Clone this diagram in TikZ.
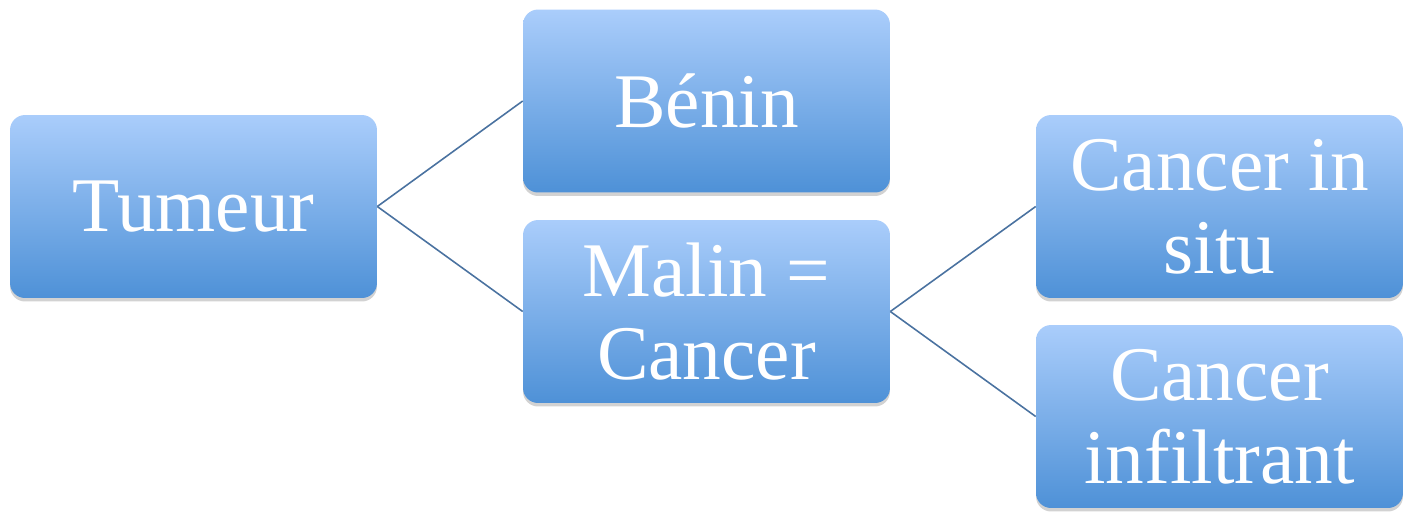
\documentclass[tikz,border=0pt]{standalone}
\usepackage{fontspec}
\setmainfont{Liberation Serif}
\usetikzlibrary{shadows}
\definecolor{boxtop}{HTML}{AACDFB}
\definecolor{boxbottom}{HTML}{4E91D7}
\definecolor{linkblue}{HTML}{4A72A0}
\tikzset{
  tumbox/.style={rectangle, rounded corners=0.3cm, minimum width=7.34cm, minimum height=3.66cm,
    top color=boxtop, bottom color=boxbottom, text=white, align=center,
    font=\fontsize{44}{47}\selectfont, inner sep=0pt,
    drop shadow={opacity=0.25, shadow xshift=0pt, shadow yshift=-0.07cm, fill=black!70}},
  link/.style={linkblue, line width=0.9pt}
}
\begin{document}
\begin{tikzpicture}[x=0.02cm, y=-0.02cm]
            \useasboundingbox (0,0) rectangle (1413,511);
            % First level
            \node[tumbox] (tumeur) at (193.5,206.5) {Tumeur};

            % Second level
            \node[tumbox] (benin) at (706.5,101) {Bénin};
            \node[tumbox] (malin) at (706.5,311.5) {Malin =\\Cancer};

            % Third level
            \node[tumbox] (insitu) at (1219.5,206.5) {Cancer in\\situ};
            \node[tumbox] (infiltrant) at (1219.5,416.5) {Cancer\\infiltrant};

            % Links
            \draw[link] (tumeur.east) -- (benin.west);
            \draw[link] (tumeur.east) -- (malin.west);
            \draw[link] (malin.east) -- (insitu.west);
            \draw[link] (malin.east) -- (infiltrant.west);
        \end{tikzpicture}
\end{document}
